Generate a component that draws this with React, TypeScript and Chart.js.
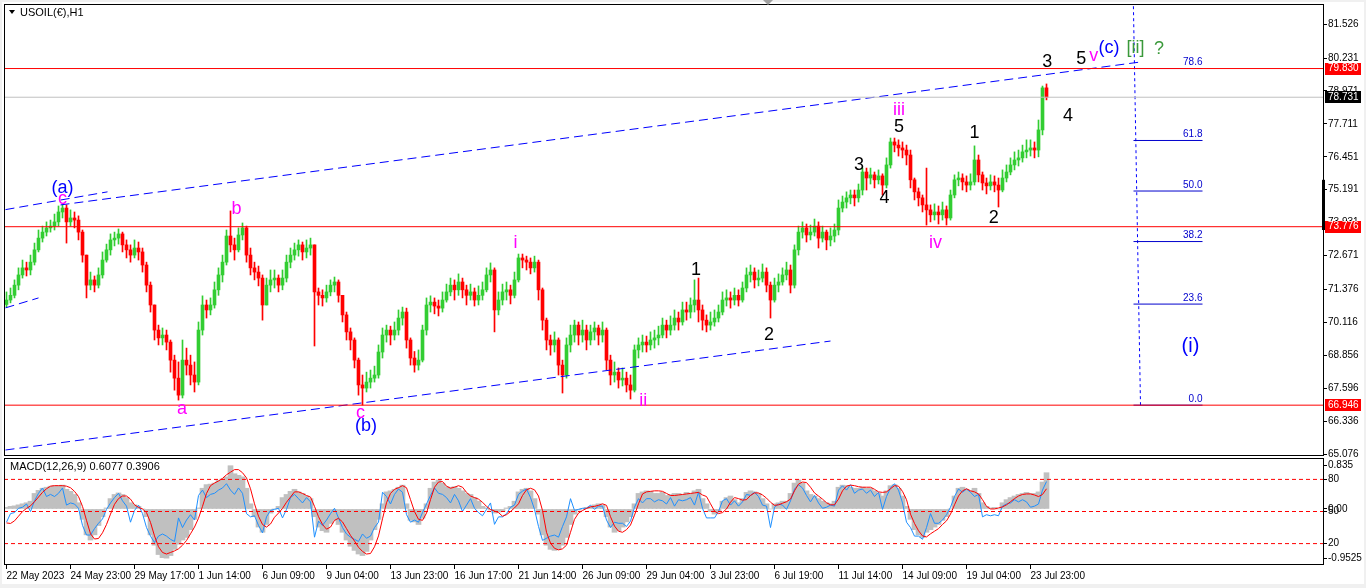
import React, { useEffect, useRef } from "react";
import { Chart, registerables } from "chart.js";

Chart.register(...registerables);

// ---------------- data ----------------
const firstOpen = 70.8;
const closes = [
  70.97,71.15,71.54,71.93,72.20,72.12,72.42,72.89,73.34,73.57,
  73.73,73.80,73.96,74.34,74.49,73.96,74.11,74.03,73.57,72.69,
  71.54,71.74,71.54,71.93,72.50,72.89,73.27,73.34,73.50,73.08,
  72.89,72.69,72.96,72.81,72.31,71.54,70.78,69.82,69.52,69.63,
  69.36,68.67,67.98,67.33,68.67,68.48,68.10,67.83,69.82,70.78,
  70.59,70.78,71.36,71.93,72.42,73.42,73.08,72.89,73.46,73.73,
  72.69,72.20,72.04,71.81,70.78,71.54,71.74,71.81,71.54,71.81,
  72.42,72.69,72.89,73.08,72.81,72.96,73.08,71.28,71.15,71.05,
  71.28,71.54,71.66,71.15,70.40,69.75,69.44,68.67,67.72,67.60,
  67.83,67.98,68.10,68.98,69.63,69.82,69.63,69.82,70.28,70.51,
  69.44,68.75,68.48,68.67,69.82,70.78,70.89,70.74,70.66,70.97,
  71.28,71.54,71.36,71.66,71.36,71.15,71.28,70.97,71.15,71.36,
  71.93,72.12,70.59,70.97,71.28,71.36,71.15,71.74,72.58,72.50,
  72.42,72.20,72.42,71.36,70.20,69.44,69.25,69.44,68.48,68.10,
  69.25,69.63,70.01,69.63,69.82,69.44,69.75,69.90,69.63,69.82,
  68.67,68.10,68.21,67.91,67.98,67.72,67.52,69.06,69.25,69.36,
  69.25,69.44,69.52,69.63,70.01,69.82,70.01,70.28,70.13,70.59,
  70.51,70.78,70.97,70.59,70.20,70.01,70.13,70.28,70.51,70.97,
  71.05,70.97,71.15,70.97,71.43,71.93,72.04,71.74,71.81,72.04,
  71.54,70.97,71.54,71.66,71.93,72.12,71.54,72.89,73.57,73.73,
  73.46,73.57,73.80,73.34,73.57,73.27,73.42,73.65,74.49,74.72,
  74.88,74.99,74.88,75.18,75.87,75.64,75.76,75.57,75.72,75.37,
  76.14,77.02,76.90,76.79,76.71,76.52,75.57,75.11,74.88,74.61,
  74.42,74.23,74.34,74.23,74.42,74.11,74.99,75.57,75.64,75.49,
  75.37,75.49,76.33,75.76,75.45,75.34,75.49,75.37,75.18,75.64,
  75.87,76.14,76.33,76.41,76.64,76.71,76.79,76.71,77.48,79.09,
  78.73
];
const highs = [
  71.28,71.43,71.74,72.20,72.50,72.42,72.69,73.15,73.65,73.80,
  73.96,74.03,74.26,74.57,74.62,74.61,74.42,74.34,74.19,73.65,
  72.69,72.04,71.89,72.20,72.81,73.11,73.50,73.57,73.69,73.57,
  73.27,73.08,73.27,73.19,72.96,72.42,71.66,70.78,70.01,69.90,
  69.82,69.44,68.86,68.60,69.44,69.13,68.86,68.60,70.13,71.13,
  70.97,71.05,71.66,72.20,72.69,73.65,74.38,73.34,73.73,73.92,
  73.80,72.96,72.42,72.27,71.93,71.81,72.12,72.12,71.93,72.12,
  72.69,72.96,73.15,73.27,73.19,73.27,73.34,73.08,71.43,71.36,
  71.54,71.74,71.85,71.74,71.15,70.51,69.90,69.52,68.75,68.10,
  68.21,68.29,68.44,69.25,69.90,70.01,69.97,70.13,70.59,70.70,
  70.66,69.52,69.00,69.06,70.01,71.05,71.13,71.05,70.97,71.28,
  71.58,71.81,71.74,71.97,71.81,71.54,71.58,71.43,71.51,71.66,
  72.20,72.39,72.20,71.28,71.58,71.66,71.54,72.04,72.73,72.73,
  72.65,72.58,72.65,72.50,71.43,70.28,69.63,69.75,69.52,68.67,
  69.52,70.01,70.20,70.13,70.20,70.01,70.01,70.13,70.01,70.13,
  69.90,68.86,68.60,68.37,68.37,68.21,68.10,69.25,69.52,69.63,
  69.59,69.75,69.82,69.97,70.28,70.20,70.36,70.59,70.51,70.89,
  70.89,71.05,71.74,71.81,70.78,70.40,70.51,70.59,70.78,71.28,
  71.36,71.28,71.43,71.36,71.66,72.20,72.31,72.20,72.12,72.35,
  72.20,71.66,71.81,71.97,72.20,72.42,72.31,73.08,73.80,73.96,
  73.88,73.84,74.07,73.96,73.80,73.65,73.73,73.88,74.80,74.95,
  75.11,75.18,75.18,75.41,76.02,76.02,76.02,75.87,75.95,75.80,
  76.41,77.17,77.17,77.10,77.02,76.90,76.71,75.64,75.26,74.99,
  76.02,74.61,74.65,74.57,74.72,74.57,75.18,75.76,75.87,75.80,
  75.72,75.80,76.87,76.52,75.87,75.64,75.76,75.72,75.64,75.95,
  76.14,76.41,76.64,76.71,76.90,77.10,77.10,77.02,77.86,79.16,
  79.24
];
const lows = [
  70.70,70.86,71.05,71.36,71.81,71.89,71.93,72.31,72.81,73.19,
  73.42,73.57,73.65,73.80,74.11,73.15,73.80,73.73,73.27,72.42,
  71.05,71.36,71.28,71.43,71.81,72.42,72.69,73.04,73.11,72.81,
  72.58,72.42,72.58,72.50,72.04,71.28,70.51,69.44,69.25,69.25,
  69.06,68.21,67.52,67.14,67.22,68.10,67.72,67.45,67.72,69.63,
  70.28,70.40,70.66,71.15,71.66,72.31,72.81,72.50,72.81,73.27,
  72.42,71.93,71.74,71.51,70.20,70.78,71.28,71.43,71.28,71.36,
  71.66,72.20,72.50,72.65,72.50,72.58,72.69,69.21,70.78,70.74,
  70.89,71.13,71.28,70.89,70.13,69.44,69.06,68.37,67.33,66.95,
  67.45,67.60,67.83,67.98,68.75,69.36,69.25,69.44,69.63,70.01,
  69.13,68.48,68.21,68.29,68.60,69.63,70.51,70.44,70.36,70.51,
  70.89,71.13,70.97,71.15,71.05,70.78,70.97,70.74,70.78,70.97,
  71.28,71.66,69.75,70.40,70.78,70.97,70.82,71.05,71.66,72.20,
  72.12,71.97,72.04,70.97,69.82,69.06,68.86,68.98,68.10,67.41,
  67.98,68.98,69.36,69.25,69.36,69.06,69.25,69.44,69.25,69.36,
  68.29,67.72,67.83,67.60,67.68,67.45,67.18,67.45,68.75,68.98,
  68.98,69.06,69.13,69.25,69.52,69.52,69.63,69.82,69.82,70.01,
  70.20,70.28,70.51,70.13,69.82,69.75,69.82,69.97,70.13,70.40,
  70.74,70.66,70.78,70.74,70.89,71.28,71.66,71.43,71.51,71.66,
  71.28,70.28,70.89,71.28,71.54,71.74,71.24,71.43,72.69,73.34,
  73.19,73.27,73.42,72.96,73.19,72.89,73.04,73.19,73.46,74.34,
  74.49,74.65,74.57,74.72,74.99,75.18,75.41,75.26,75.41,74.99,
  75.26,76.02,76.64,76.48,76.41,76.14,75.26,74.80,74.57,74.34,
  73.84,73.96,74.03,73.88,74.03,73.84,74.03,74.88,75.34,75.18,
  75.11,75.18,75.37,75.49,75.18,75.03,75.18,75.11,74.53,75.11,
  75.49,75.76,75.95,76.10,76.25,76.41,76.48,76.41,76.45,77.29,
  78.63
];
const macdHist = [
  0.03,0.05,0.06,0.08,0.1,0.12,0.15,0.3,0.36,0.4,
  0.42,0.44,0.45,0.45,0.46,0.38,0.34,0.28,0.12,-0.2,
  -0.5,-0.6,-0.5,-0.32,-0.15,0.02,0.2,0.28,0.31,0.28,
  0.22,0.12,0.08,0.05,0.0,-0.15,-0.5,-0.7,-0.88,-0.94,
  -0.95,-0.9,-0.78,-0.68,-0.6,-0.55,-0.4,-0.2,0.02,0.4,
  0.47,0.48,0.5,0.55,0.58,0.62,0.835,0.68,0.65,0.62,
  0.4,0.1,-0.15,-0.35,-0.45,-0.3,-0.08,0.0,0.05,0.22,
  0.28,0.34,0.38,0.33,0.3,0.25,0.2,-0.15,-0.35,-0.42,
  -0.45,-0.28,-0.22,-0.3,-0.45,-0.6,-0.72,-0.8,-0.87,-0.9,
  -0.82,-0.6,-0.4,-0.2,0.1,0.33,0.35,0.38,0.42,0.46,
  0.1,-0.22,-0.25,-0.3,-0.18,0.1,0.4,0.52,0.56,0.5,
  0.43,0.42,0.43,0.4,0.35,0.3,0.28,0.22,0.15,0.05,
  0.02,-0.02,-0.08,-0.06,-0.05,0.02,0.05,0.15,0.33,0.38,
  0.4,0.35,0.2,-0.1,-0.5,-0.7,-0.78,-0.8,-0.78,-0.7,
  -0.55,-0.3,-0.1,-0.02,0.0,0.03,0.05,0.08,0.1,0.08,
  -0.15,-0.35,-0.45,-0.42,-0.35,-0.25,-0.15,0.1,0.3,0.33,
  0.35,0.34,0.3,0.3,0.32,0.26,0.28,0.3,0.3,0.28,
  0.32,0.3,0.35,0.38,0.2,0.1,-0.05,-0.1,-0.05,0.15,
  0.22,0.25,0.18,0.12,0.2,0.32,0.35,0.33,0.3,0.2,
  0.1,0.0,0.1,0.12,0.15,0.15,0.3,0.5,0.56,0.5,
  0.35,0.28,0.25,0.2,0.15,0.12,0.1,0.15,0.42,0.46,
  0.45,0.42,0.4,0.4,0.42,0.4,0.4,0.35,0.3,0.25,
  0.35,0.45,0.47,0.4,0.25,0.05,-0.2,-0.4,-0.5,-0.55,
  -0.45,-0.4,-0.35,-0.3,-0.22,-0.15,0.0,0.25,0.4,0.42,
  0.38,0.35,0.4,0.3,0.12,0.05,0.02,0.03,0.0,0.12,
  0.18,0.22,0.25,0.28,0.3,0.32,0.3,0.3,0.33,0.52,
  0.7
];
const macdSignal = [
  -0.27,-0.28,-0.23,-0.14,-0.05,0.01,0.06,0.14,0.23,0.32,
  0.39,0.44,0.45,0.45,0.45,0.44,0.41,0.34,0.24,0.05,
  -0.22,-0.48,-0.58,-0.57,-0.46,-0.3,-0.1,0.09,0.2,0.25,
  0.25,0.19,0.08,0.03,0.0,-0.07,-0.26,-0.52,-0.73,-0.84,
  -0.87,-0.84,-0.81,-0.77,-0.7,-0.61,-0.48,-0.35,-0.18,0.05,
  0.3,0.45,0.5,0.54,0.59,0.66,0.71,0.76,0.76,0.7,
  0.6,0.39,0.1,-0.14,-0.3,-0.35,-0.29,-0.16,-0.08,0.01,
  0.13,0.23,0.33,0.33,0.3,0.26,0.23,0.05,-0.15,-0.3,
  -0.39,-0.35,-0.22,-0.18,-0.25,-0.38,-0.51,-0.62,-0.74,-0.82,
  -0.87,-0.86,-0.73,-0.52,-0.19,0.12,0.3,0.38,0.41,0.45,
  0.41,0.18,-0.05,-0.2,-0.22,-0.08,0.18,0.42,0.52,0.53,
  0.44,0.4,0.42,0.45,0.42,0.32,0.25,0.22,0.19,0.13,
  0.05,-0.01,-0.04,-0.07,-0.14,-0.11,-0.05,0.02,0.1,0.26,
  0.37,0.4,0.37,0.25,-0.03,-0.45,-0.66,-0.76,-0.79,-0.77,
  -0.7,-0.45,-0.2,-0.08,-0.03,0.01,0.04,0.05,0.07,0.1,
  0.07,-0.15,-0.33,-0.43,-0.45,-0.4,-0.31,-0.12,0.1,0.29,
  0.33,0.34,0.35,0.35,0.34,0.3,0.26,0.26,0.27,0.28,
  0.29,0.3,0.31,0.32,0.27,0.24,0.1,-0.04,-0.09,-0.07,
  0.0,0.13,0.22,0.2,0.17,0.18,0.26,0.31,0.31,0.27,
  0.21,0.13,0.07,0.08,0.11,0.14,0.19,0.35,0.48,0.52,
  0.51,0.42,0.31,0.25,0.19,0.12,0.08,0.08,0.19,0.35,
  0.44,0.46,0.45,0.43,0.42,0.42,0.42,0.38,0.33,0.32,
  0.33,0.39,0.45,0.44,0.34,0.18,-0.1,-0.28,-0.42,-0.52,
  -0.54,-0.48,-0.43,-0.38,-0.3,-0.23,-0.1,0.08,0.25,0.35,
  0.39,0.35,0.33,0.29,0.18,0.05,0.0,0.0,0.02,0.04,
  0.08,0.14,0.2,0.25,0.28,0.29,0.29,0.27,0.24,0.28,
  0.39
];
const rsiValues = [
  40,48,49,53,54,57,50,60,67,72,
  64,66,64,67,72,56,58,57,53,37,
  28,28,34,39,43,52,58,63,67,60,
  55,40,51,56,48,35,27,21,27,29,
  27,24,22,44,35,42,47,42,65,70,
  63,66,67,70,72,76,70,66,72,67,
  48,45,46,37,30,45,51,52,53,44,
  52,63,66,62,58,63,59,26,41,37,
  42,48,53,44,35,29,26,24,22,29,
  25,27,35,40,68,64,57,66,71,68,
  47,40,42,40,49,57,65,72,67,66,
  63,58,66,60,50,56,62,53,49,46,
  52,58,38,45,45,48,54,56,66,69,
  71,63,52,36,23,25,27,28,26,36,
  45,62,51,52,53,53,56,52,55,55,
  42,35,40,39,39,36,41,54,62,58,
  62,62,59,61,60,57,63,55,61,60,
  61,63,56,68,53,44,44,44,50,60,
  62,56,60,55,59,66,65,68,64,56,
  55,35,54,57,56,52,60,71,75,72,
  65,59,65,58,53,54,56,55,70,74,
  70,75,67,70,71,67,70,64,68,52,
  64,72,76,70,58,40,35,27,27,24,
  35,48,39,39,42,47,54,64,71,68,
  71,68,64,66,45,47,46,47,46,55,
  57,58,61,59,61,59,54,55,57,70,
  78
];
const timeLabels = [
  "22 May 2023","24 May 23:00","29 May 17:00","1 Jun 14:00","6 Jun 09:00",
  "9 Jun 04:00","13 Jun 23:00","16 Jun 17:00","21 Jun 14:00","26 Jun 09:00",
  "29 Jun 04:00","3 Jul 23:00","6 Jul 19:00","11 Jul 14:00","14 Jul 09:00",
  "19 Jul 04:00","23 Jul 23:00"
];
const timeTickBars = [0,16,32,48,64,80,96,112,128,144,160,176,192,208,224,240,256];
const priceTicks = [81.526,80.231,78.971,77.711,76.451,75.191,73.931,72.671,71.376,70.116,68.856,67.596,66.336,65.076];
const redLevels = [79.83, 73.776, 66.946];
const bidPrice = 78.731;
const fibPercents = [0, 23.6, 38.2, 50, 61.8, 78.6];
const fibLow = 66.946;
const fibHigh = 83.338;
const fibSpanBars = [281.75, 299];
const fibTrendBars = [283.5, 281.6];
const upperChannelBars = [13.5, 283.5];
const upperChannelPrices = [74.61, 80.08];
const lowerChannelBars = [-0.25, 206];
const lowerChannelPrices = [65.23, 69.4];
const leftUpperBars = [-0.25, 25.25];
const leftUpperPrices = [74.43, 75.11];
const leftLowerBars = [-0.25, 8];
const leftLowerPrices = [70.67, 71.05];
const rsiLevels = [80, 50, 20];
const macdExtremes = [0.835, -0.9525];
const macdCurrent = [0.6077, 0.3906];
const waveTexts = ["(a)","c","b","a","c","(b)","i","ii","1","2","3","4","5","iii","iv","1","2","3","4","5","v","(c)","[ii]","?","(i)"];
const waveBars = [14,14,57.5,43.9,88.5,89.9,127.25,159.2,172.4,190.6,213.1,219.5,223.1,223.1,232.25,242,246.8,260.2,265.4,268.7,271.8,275.6,282.25,288.1,296];
const wavePrices = [75.27,74.84,74.47,66.78,66.63,66.15,73.14,67.10,72.12,69.63,76.14,74.86,77.61,78.24,73.16,77.35,74.10,80.06,78.02,80.19,80.29,80.61,80.61,80.57,69.18];
const waveDegree = ["A","m","m","m","m","A","m","m","n","n","n","n","n","m","m","n","n","n","n","n","m","A","G","G","A"];

// ---------------- styling / layout ----------------
const FONT = '"Liberation Sans", Arial, sans-serif';
const X_MIN = -0.625;
const X_MAX = X_MIN + 330;
const AXIS_W = 42;
const UP = "#32CD32";
const DOWN = "#FF0000";
const CHANNEL_DASH = [9, 5];
const degreeColor: Record<string, string> = { A: "#0000FF", m: "#FF00FF", n: "#000000", G: "#3A993A" };

const opens = closes.map((c, i) => (i === 0 ? firstOpen : closes[i - 1]));
const barColors = closes.map((c, i) => (c >= opens[i] ? UP : DOWN));

function seg(xs: number[], ys: number[]) {
  return xs.map((x, i) => ({ x, y: ys[i] }));
}
function hline(v: number) {
  return [{ x: X_MIN, y: v }, { x: X_MAX, y: v }];
}
function lineDs(data: any, color: string, dash: number[] = [], extra: any = {}) {
  return {
    type: "line",
    data,
    borderColor: color,
    borderWidth: 1,
    borderDash: dash,
    pointRadius: 0,
    fill: false,
    tension: 0,
    order: 0,
    ...extra,
  };
}

const fibPrice = (p: number) => fibLow + (p / 100) * (fibHigh - fibLow);

const mainDecor = {
  id: "mainDecor",
  beforeDraw(chart: any) {
    const { ctx, width, height } = chart;
    ctx.save();
    ctx.fillStyle = "#ffffff";
    ctx.fillRect(2, 2, width - 4, height - 2);
    ctx.restore();
  },
  afterDatasetsDraw(chart: any) {
    const { ctx } = chart;
    const xs = chart.scales.x;
    const ys = chart.scales.y;
    ctx.save();
    ctx.textAlign = "center";
    ctx.textBaseline = "middle";
    waveTexts.forEach((t, i) => {
      const size = t === "(i)" ? 20 : 18;
      ctx.font = `${size}px ${FONT}`;
      ctx.fillStyle = degreeColor[waveDegree[i]];
      ctx.fillText(t, xs.getPixelForValue(waveBars[i]), ys.getPixelForValue(wavePrices[i]));
    });
    ctx.font = `10px ${FONT}`;
    ctx.fillStyle = "#0000CD";
    ctx.textAlign = "right";
    ctx.textBaseline = "bottom";
    fibPercents.forEach((p) => {
      ctx.fillText(p.toFixed(1), xs.getPixelForValue(fibSpanBars[1]), ys.getPixelForValue(fibPrice(p)) - 1);
    });
    ctx.restore();
  },
  afterDraw(chart: any) {
    const { ctx, chartArea } = chart;
    const ys = chart.scales.y;
    ctx.save();
    ctx.strokeStyle = "#000";
    ctx.lineWidth = 1;
    ctx.strokeRect(chartArea.left + 0.5, chartArea.top + 0.5, chartArea.right - chartArea.left - 1, chartArea.bottom - chartArea.top - 1);
    // scale-scroll marker on the price axis edge
    ctx.fillStyle = "#000";
    ctx.fillRect(chartArea.right - 2, ys.getPixelForValue(75.57), 3, ys.getPixelForValue(73.65) - ys.getPixelForValue(75.57));
    // title
    ctx.beginPath();
    ctx.moveTo(9, 10);
    ctx.lineTo(15, 10);
    ctx.lineTo(12, 14);
    ctx.closePath();
    ctx.fill();
    ctx.font = `11px ${FONT}`;
    ctx.textBaseline = "middle";
    ctx.textAlign = "left";
    ctx.fillText("USOIL(\u20AC),H1", 20, 13);
    // chart shift marker
    ctx.fillStyle = "#A0A0A0";
    ctx.beginPath();
    ctx.moveTo(763, 0);
    ctx.lineTo(773, 0);
    ctx.lineTo(768, 5);
    ctx.closePath();
    ctx.fill();
    // price boxes
    const box = (v: number, bg: string) => {
      const py = ys.getPixelForValue(v);
      ctx.fillStyle = bg;
      ctx.fillRect(chartArea.right + 1, Math.round(py) - 6, 36, 12);
      ctx.fillStyle = "#fff";
      ctx.font = `10px ${FONT}`;
      ctx.textBaseline = "middle";
      ctx.fillText(v.toFixed(3), chartArea.right + 4, py);
    };
    redLevels.forEach((v) => box(v, "#FF0000"));
    box(bidPrice, "#000000");
    ctx.restore();
  },
};

const macdDecor = {
  id: "macdDecor",
  beforeDraw(chart: any) {
    const { ctx, width, height } = chart;
    ctx.save();
    ctx.fillStyle = "#ffffff";
    ctx.fillRect(2, 0, width - 4, height - 4);
    ctx.restore();
  },
  afterDraw(chart: any) {
    const { ctx, chartArea } = chart;
    ctx.save();
    ctx.strokeStyle = "#000";
    ctx.lineWidth = 1;
    ctx.strokeRect(chartArea.left + 0.5, chartArea.top + 0.5, chartArea.right - chartArea.left - 1, chartArea.bottom - chartArea.top - 1);
    ctx.fillStyle = "#000";
    ctx.font = `11px ${FONT}`;
    ctx.textBaseline = "middle";
    ctx.textAlign = "left";
    ctx.fillText(`MACD(12,26,9) ${macdCurrent[0].toFixed(4)} ${macdCurrent[1].toFixed(4)}`, 10, 9);
    ctx.restore();
  },
};

const MACD_MIN = -1.082;
const MACD_MAX = 0.984;
const rsiToMacd = (v: number) => MACD_MIN + (v / 100) * (MACD_MAX - MACD_MIN);

function mainConfig(): any {
  const wickData = closes.map((c, i) => ({
    x: i,
    y: [Math.min(lows[i], opens[i], c), Math.max(highs[i], opens[i], c)],
  }));
  const bodyData = closes.map((c, i) => ({ x: i, y: [opens[i], c] }));
  return {
    type: "bar",
    data: {
      datasets: [
        ...redLevels.map((v) => lineDs(hline(v), "#FF0000")),
        lineDs(hline(bidPrice), "#C0C0C0"),
        lineDs(seg(upperChannelBars, upperChannelPrices), "#0000FF", CHANNEL_DASH),
        lineDs(seg(lowerChannelBars, lowerChannelPrices), "#0000FF", CHANNEL_DASH),
        lineDs(seg(leftUpperBars, leftUpperPrices), "#0000FF", CHANNEL_DASH),
        lineDs(seg(leftLowerBars, leftLowerPrices), "#0000FF", CHANNEL_DASH),
        ...fibPercents.map((p) => lineDs(seg(fibSpanBars, [fibPrice(p), fibPrice(p)]), "#0000CD")),
        lineDs(seg(fibTrendBars, [fibLow, fibHigh]), "#0000FF", [3, 3]),
        {
          type: "bar",
          data: wickData,
          backgroundColor: barColors,
          borderWidth: 0,
          barThickness: 1,
          grouped: false,
          order: 10,
        },
        {
          type: "bar",
          data: bodyData,
          backgroundColor: barColors,
          borderWidth: 0,
          barThickness: 3,
          minBarLength: 1,
          grouped: false,
          order: 9,
        },
      ],
    },
    options: {
      responsive: false,
      animation: false,
      devicePixelRatio: 1,
      events: [],
      layout: { padding: { left: 4, top: 4, right: 0, bottom: 2 } },
      plugins: { legend: { display: false }, tooltip: { enabled: false } },
      scales: {
        x: { type: "linear", min: X_MIN, max: X_MAX, offset: false, display: false, grid: { offset: false } },
        y: {
          type: "linear",
          position: "right",
          min: 65.0,
          max: 82.3,
          afterBuildTicks: (axis: any) => {
            axis.ticks = priceTicks.map((v) => ({ value: v }));
          },
          afterFit: (axis: any) => {
            axis.width = AXIS_W;
            axis.paddingTop = 0;
            axis.paddingBottom = 0;
          },
          ticks: {
            autoSkip: false,
            color: "#000",
            padding: 1,
            font: { family: FONT, size: 10 },
            callback: (v: any) => Number(v).toFixed(3),
          },
          grid: { drawOnChartArea: false, drawTicks: true, tickLength: 3, color: "#000" },
          border: { display: false },
        },
      },
    },
    plugins: [mainDecor],
  };
}

function macdConfig(): any {
  const histData = macdHist.map((v, i) => ({ x: i, y: v }));
  const sigData = macdSignal.map((v, i) => ({ x: i, y: v }));
  const rsiData = rsiValues.map((v, i) => ({ x: i, y: v }));
  const yTicks = [
    { value: macdExtremes[0], label: macdExtremes[0].toFixed(3) },
    { value: rsiToMacd(rsiLevels[0]), label: String(rsiLevels[0]) },
    { value: 0, label: "0.00" },
    { value: rsiToMacd(rsiLevels[1]), label: String(rsiLevels[1]) },
    { value: rsiToMacd(rsiLevels[2]), label: String(rsiLevels[2]) },
    { value: macdExtremes[1], label: macdExtremes[1].toFixed(4) },
  ];
  return {
    type: "bar",
    data: {
      datasets: [
        ...rsiLevels.map((v) => lineDs(hline(v), "#FF0000", [4, 3], { yAxisID: "yR", order: 0 })),
        lineDs(sigData, "#FF0000", [], { yAxisID: "y", order: 1 }),
        lineDs(rsiData, "#1E90FF", [], { yAxisID: "yR", order: 2 }),
        {
          type: "bar",
          data: histData,
          backgroundColor: "#C0C0C0",
          borderWidth: 0,
          barThickness: 5,
          grouped: false,
          yAxisID: "y",
          order: 5,
        },
      ],
    },
    options: {
      responsive: false,
      animation: false,
      devicePixelRatio: 1,
      events: [],
      layout: { padding: { left: 4, top: 0, right: 0, bottom: 0 } },
      plugins: { legend: { display: false }, tooltip: { enabled: false } },
      scales: {
        x: {
          type: "linear",
          min: X_MIN,
          max: X_MAX,
          offset: false,
          position: "bottom",
          afterBuildTicks: (axis: any) => {
            axis.ticks = timeTickBars.map((v) => ({ value: v }));
          },
          afterFit: (axis: any) => {
            axis.height = 23;
            axis.paddingLeft = 0;
            axis.paddingRight = 0;
          },
          ticks: {
            autoSkip: false,
            maxRotation: 0,
            minRotation: 0,
            align: "start",
            color: "#000",
            padding: 1,
            font: { family: FONT, size: 10 },
            callback: (_v: any, i: number) => timeLabels[i],
          },
          grid: { offset: false, drawOnChartArea: false, drawTicks: true, tickLength: 4, color: "#000" },
          border: { display: false },
        },
        y: {
          type: "linear",
          position: "right",
          min: MACD_MIN,
          max: MACD_MAX,
          afterBuildTicks: (axis: any) => {
            axis.ticks = yTicks.map((t) => ({ value: t.value }));
          },
          afterFit: (axis: any) => {
            axis.width = AXIS_W;
            axis.paddingTop = 0;
            axis.paddingBottom = 0;
          },
          ticks: {
            autoSkip: false,
            color: "#000",
            padding: 1,
            font: { family: FONT, size: 10 },
            callback: (_v: any, i: number) => yTicks[i].label,
          },
          grid: { drawOnChartArea: false, drawTicks: true, tickLength: 3, color: "#000" },
          border: { display: false },
        },
        yR: { type: "linear", display: false, min: 0, max: 100 },
      },
    },
    plugins: [macdDecor],
  };
}

export default function App() {
  const mainRef = useRef<HTMLCanvasElement | null>(null);
  const macdRef = useRef<HTMLCanvasElement | null>(null);

  useEffect(() => {
    document.body.style.margin = "0";
    const main = new Chart(mainRef.current as HTMLCanvasElement, mainConfig());
    const sub = new Chart(macdRef.current as HTMLCanvasElement, macdConfig());
    return () => {
      main.destroy();
      sub.destroy();
    };
  }, []);

  return (
    <div style={{ position: "relative", width: 1366, height: 588, background: "#F0F0F0", overflow: "hidden" }}>
      <canvas ref={mainRef} width={1366} height={458} style={{ position: "absolute", left: 0, top: 0, width: 1366, height: 458 }} />
      <canvas ref={macdRef} width={1366} height={130} style={{ position: "absolute", left: 0, top: 458, width: 1366, height: 130 }} />
    </div>
  );
}
